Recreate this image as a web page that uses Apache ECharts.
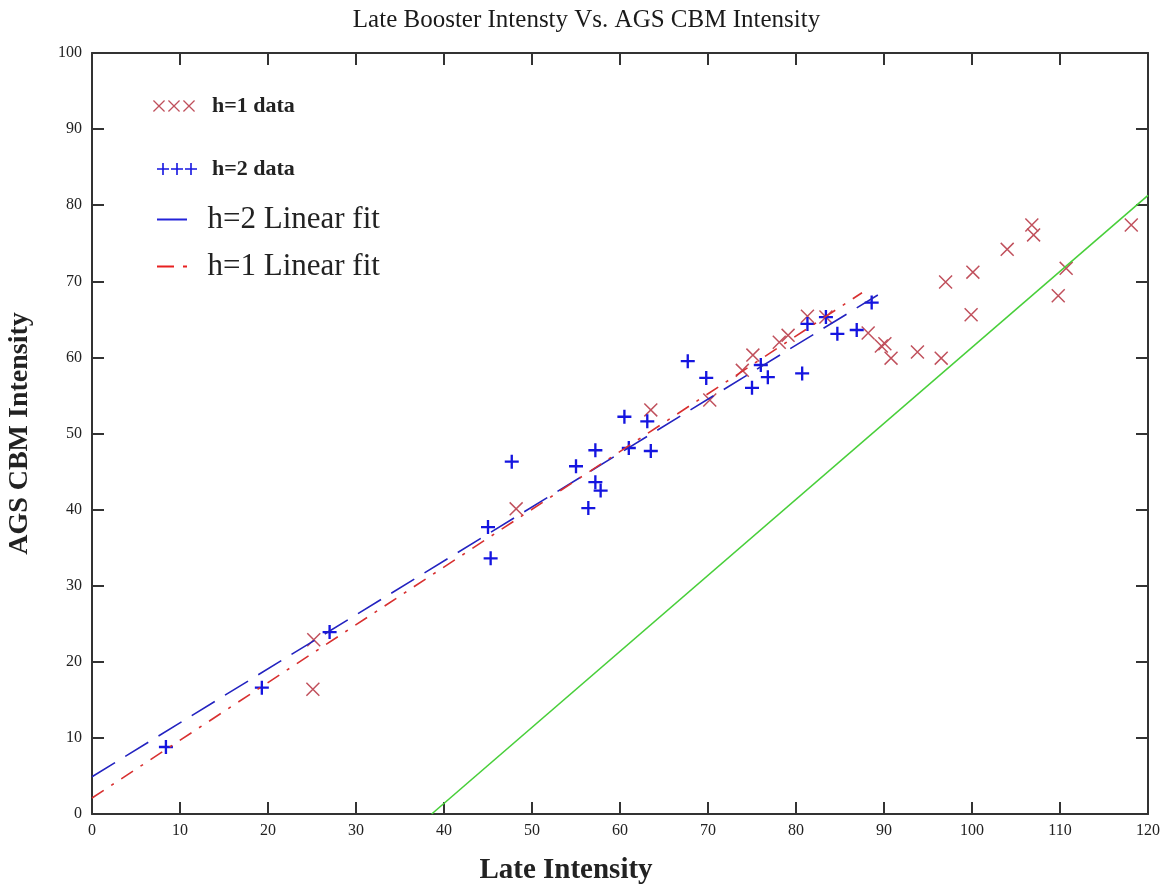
<!DOCTYPE html>
<html>
<head>
<meta charset="utf-8">
<script src="https://cdn.jsdelivr.net/npm/echarts@6/dist/echarts.min.js"></script>
<style>
  html, body { margin: 0; padding: 0; background: #fff; }
  #chart { width: 1173px; height: 886px; }
</style>
</head>
<body>
<div id="chart"></div>
<script>
// h=1 measurements: [late intensity, AGS CBM intensity]
const h1Data = [
  [25.1, 16.4], [25.2, 22.9], [48.2, 40.1], [63.5, 53.1], [70.2, 54.4],
  [73.9, 58.3], [75.1, 60.3], [78.1, 62.0], [79.1, 62.9], [81.3, 65.4],
  [83.4, 65.3], [88.2, 63.2], [89.7, 61.5], [90.1, 61.8], [90.8, 59.9],
  [93.8, 60.7], [96.5, 59.9], [97.0, 69.9], [99.9, 65.6], [100.1, 71.2],
  [104.0, 74.2], [106.8, 77.4], [107.0, 76.1], [109.8, 68.1], [110.7, 71.7],
  [118.1, 77.4]
];

// h=2 measurements
const h2Data = [
  [8.4, 8.8], [19.3, 16.6], [27.0, 23.9], [45.0, 37.7], [45.3, 33.6],
  [47.7, 46.3], [55.0, 45.7], [56.4, 40.2], [57.2, 47.8], [57.2, 43.6],
  [57.8, 42.5], [60.5, 52.2], [61.0, 48.1], [63.1, 51.6], [63.5, 47.7],
  [67.7, 59.5], [69.8, 57.3], [75.0, 56.0], [76.0, 59.0], [76.8, 57.4],
  [80.7, 57.9], [81.3, 64.4], [83.4, 65.3], [84.7, 63.1], [86.9, 63.6],
  [88.6, 67.2]
];

// Linear fits (end points) and the reference line
const h2Fit = [[0, 4.9], [89.3, 68.2]];
const h1Fit = [[0, 2.1], [87.5, 68.5]];
const refLine = [[38.6, 0], [120, 81.3]];

const xTicks = [0, 10, 20, 30, 40, 50, 60, 70, 80, 90, 100, 110, 120];
const yTicks = [0, 10, 20, 30, 40, 50, 60, 70, 80, 90, 100];

const SERIF = '"Liberation Serif", "Times New Roman", serif';
const RED_X = '#c0505c';
const BLUE_P = '#1515e0';

// symbol shapes
const xMark = 'path://M0,0.9 L0.9,0 L12,11.1 L11.1,12 Z M0,11.1 L11.1,0 L12,0.9 L0.9,12 Z';
const plusMark = 'path://M0,5 H12 V7 H0 Z M5,0 H7 V12 H5 Z';
const xxxIcon = 'path://' + [0, 15, 30].map(o =>
  `M${o},0.9 L${o + 0.9},0 L${o + 12},11.1 L${o + 11.1},12 Z M${o},11.1 L${o + 11.1},0 L${o + 12},0.9 L${o + 0.9},12 Z`).join(' ');
const plusIcon = 'path://' + [0, 14, 28].map(o =>
  `M${o},5.2 H${o + 12} V6.8 H${o} Z M${o + 5.2},0 H${o + 6.8} V12 H${o + 5.2} Z`).join(' ');
const lineIcon = 'path://M0,0 H30 V2 H0 Z';
const dashDotIcon = 'path://M0,0 H17 V2 H0 Z M26,0 H30 V2 H26 Z';

const axisCommon = {
  type: 'value',
  interval: 10,
  axisLine: { show: true, onZero: false, lineStyle: { color: '#333', width: 2 } },
  axisTick: { show: true, inside: true, length: 12, lineStyle: { color: '#333', width: 2 } },
  splitLine: { show: false }
};

const chart = echarts.init(document.getElementById('chart'));
chart.setOption({
  animation: false,
  backgroundColor: '#fff',
  title: {
    text: 'Late Booster Intensty Vs. AGS CBM Intensity',
    left: 'center', top: 3,
    textStyle: { fontFamily: SERIF, fontSize: 25, fontWeight: 'normal', color: '#1a1a1a' }
  },
  grid: { left: 92, right: 25, top: 53, bottom: 72, outerBoundsMode: 'none' },
  legend: [
    {
      left: 148, top: 90, itemWidth: 42, itemHeight: 12,
      data: [{ name: 'h=1 data', icon: xxxIcon }],
      textStyle: { fontFamily: SERIF, fontSize: 22, fontWeight: 'bold', color: '#222', padding: [0, 0, 0, 12] }
    },
    {
      left: 152, top: 153, itemWidth: 40, itemHeight: 12,
      data: [{ name: 'h=2 data', icon: plusIcon }],
      textStyle: { fontFamily: SERIF, fontSize: 22, fontWeight: 'bold', color: '#222', padding: [0, 0, 0, 10] }
    },
    {
      left: 152, top: 199, itemWidth: 31, itemHeight: 2,
      data: [{ name: 'h=2 Linear fit', icon: lineIcon }],
      textStyle: { fontFamily: SERIF, fontSize: 31, color: '#222', padding: [0, 0, 0, 15] }
    },
    {
      left: 152, top: 246, itemWidth: 31, itemHeight: 2,
      data: [{ name: 'h=1 Linear fit', icon: dashDotIcon }],
      textStyle: { fontFamily: SERIF, fontSize: 31, color: '#222', padding: [0, 0, 0, 15] }
    }
  ],
  xAxis: [
    Object.assign({}, axisCommon, {
      position: 'bottom', min: xTicks[0], max: xTicks[xTicks.length - 1],
      name: 'Late Intensity', nameLocation: 'middle', nameGap: 42,
      nameTextStyle: { fontFamily: SERIF, fontSize: 29, fontWeight: 'bold', color: '#222', padding: [0, 108, 0, 0] },
      axisLabel: { fontFamily: SERIF, fontSize: 16, color: '#222', margin: 9 }
    }),
    Object.assign({}, axisCommon, {
      position: 'top', min: xTicks[0], max: xTicks[xTicks.length - 1],
      axisLabel: { show: false }
    })
  ],
  yAxis: [
    Object.assign({}, axisCommon, {
      position: 'left', min: yTicks[0], max: yTicks[yTicks.length - 1],
      name: 'AGS CBM Intensity', nameLocation: 'middle', nameGap: 58, nameRotate: 90,
      nameTextStyle: { fontFamily: SERIF, fontSize: 28, fontWeight: 'bold', color: '#222' },
      axisLabel: { fontFamily: SERIF, fontSize: 16, color: '#222', margin: 10 }
    }),
    Object.assign({}, axisCommon, {
      position: 'right', min: yTicks[0], max: yTicks[yTicks.length - 1],
      axisLabel: { show: false }
    })
  ],
  series: [
    {
      name: 'reference', type: 'line', data: refLine, symbol: 'none',
      lineStyle: { color: '#48cf3a', width: 1.6 }, silent: true
    },
    {
      name: 'h=2 Linear fit', type: 'line', data: h2Fit, symbol: 'none',
      itemStyle: { color: '#2323d8' },
      lineStyle: { color: '#2323c0', width: 1.6, type: [27, 12] }
    },
    {
      name: 'h=1 Linear fit', type: 'line', data: h1Fit, symbol: 'none',
      itemStyle: { color: '#e82020' },
      lineStyle: { color: '#d83030', width: 1.6, type: [14, 9, 3, 9] }
    },
    {
      name: 'h=1 data', type: 'scatter', data: h1Data,
      symbol: xMark, symbolSize: 14,
      itemStyle: { color: RED_X, opacity: 1 }
    },
    {
      name: 'h=2 data', type: 'scatter', data: h2Data,
      symbol: plusMark, symbolSize: 14,
      itemStyle: { color: BLUE_P, opacity: 1 }
    }
  ]
});
</script>
</body>
</html>
